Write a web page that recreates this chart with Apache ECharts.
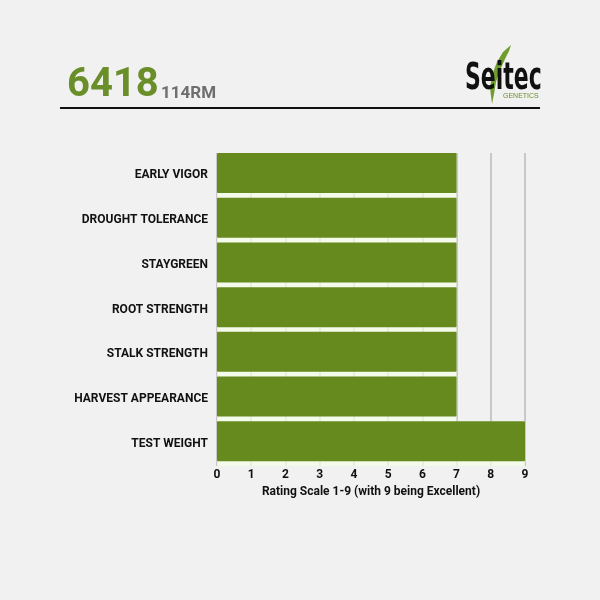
<!DOCTYPE html>
<html>
<head>
<meta charset="utf-8">
<script src="https://cdn.jsdelivr.net/npm/echarts@6/dist/echarts.min.js"></script>
<style>
html,body{margin:0;padding:0;background:#f1f1f1;}
#c{width:600px;height:600px;}
</style>
</head>
<body>
<div id="c"></div>
<script>
const categories = ['EARLY VIGOR','DROUGHT TOLERANCE','STAYGREEN','ROOT STRENGTH','STALK STRENGTH','HARVEST APPEARANCE','TEST WEIGHT'];
const ratings = [7, 7, 7, 7, 7, 7, 9];
const tickValues = [0,1,2,3,4,5,6,7,8,9];
const hybridName = '6418';
const maturity = '114RM';
const axisTitle = 'Rating Scale 1-9 (with 9 being Excellent)';

const chart = echarts.init(document.getElementById('c'));
chart.setOption({
  backgroundColor: '#f1f1f1',
  animation: false,
  grid: {left: 217, right: 75, top: 153, bottom: 134, containLabel: false},
  xAxis: {
    type: 'value', min: 0, max: 9, interval: 1,
    axisLine: {show: false}, axisTick: {show: false},
    axisLabel: {color: '#111', fontFamily: 'Roboto', fontWeight: 'bold', fontSize: 12, margin: 3},
    splitLine: {show: true, lineStyle: {color: '#c8c8c8', width: 2}},
    name: axisTitle, nameLocation: 'middle', nameGap: 20,
    nameTextStyle: {color: '#111', fontFamily: 'Roboto', fontWeight: 'bold', fontSize: 12}
  },
  yAxis: {
    type: 'category', data: categories, inverse: true,
    axisLine: {show: false}, axisTick: {show: false},
    axisLabel: {color: '#111', fontFamily: 'Roboto', fontWeight: 'bold', fontSize: 12, margin: 9},
    splitLine: {show: false}
  },
  series: [
    {
      type: 'bar', data: ratings, barWidth: 40, barGap: '-100%', z: 3,
      itemStyle: {color: '#678a1f', borderRadius: 1}
    },
    {
      type: 'bar', data: ratings, barWidth: 44.7, barGap: '-100%', z: 2, silent: true,
      itemStyle: {color: 'rgba(246,255,232,0.7)'}
    }
  ],
  graphic: [
    {type: 'text', x: 67, y: 66, style: {text: hybridName, fill: '#6a8f2a', font: 'bold 40px Roboto'}},
    {type: 'text', x: 161, y: 85, style: {text: maturity, fill: '#6e6e6e', font: 'bold 17px Roboto'}},
    {type: 'rect', shape: {x: 60, y: 107, width: 480, height: 2}, style: {fill: '#111'}},
    {type: 'polygon', shape: {points: [[511,45],[503,52],[497,62],[492,75],[490,88],[492,104],[494,94],[496,82],[500,70],[505,59],[509,51]]}, style: {fill: '#6f9e2e'}},
    {type: 'text', x: 465, y: 61, scaleX: 0.66, style: {text: 'Seitec', fill: '#111', font: 'bold 37px "Liberation Sans Narrow", "DejaVu Sans Condensed", sans-serif'}},
    {type: 'text', x: 503, y: 93, style: {text: 'GENETICS', fill: '#6a8f2a', font: '7px "Liberation Sans Narrow", sans-serif'}}
  ]
});
</script>
</body>
</html>
